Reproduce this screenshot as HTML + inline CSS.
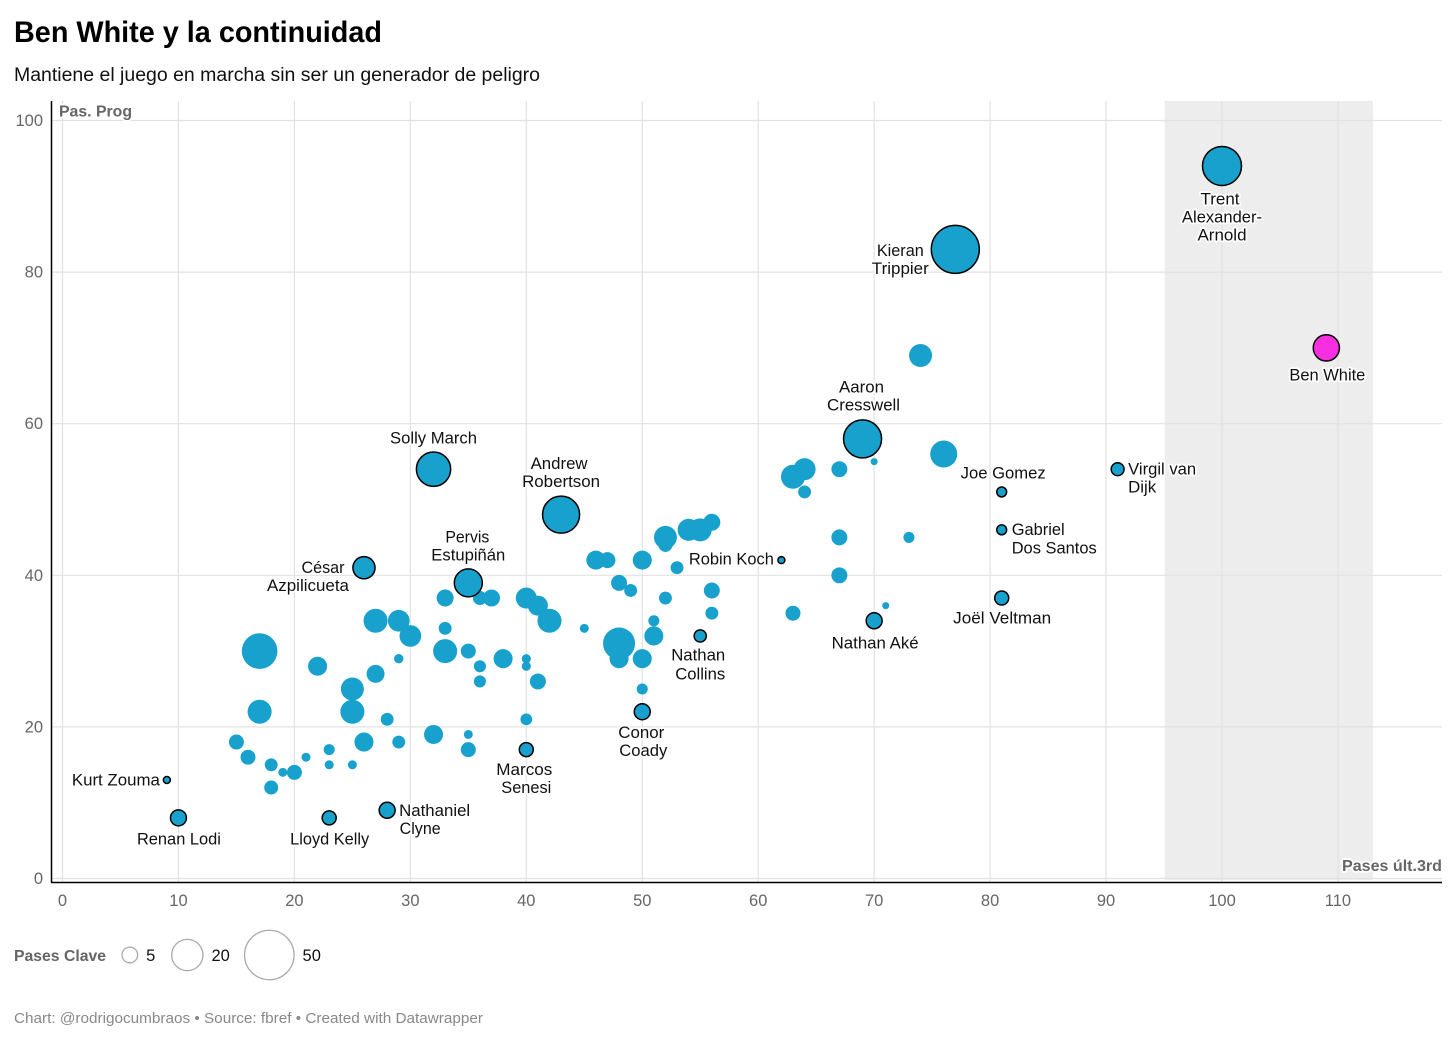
<!DOCTYPE html>
<html lang="es">
<head>
<meta charset="utf-8">
<title>Ben White y la continuidad</title>
<style>
html,body{margin:0;padding:0;background:#fff;width:1456px;height:1051px;overflow:hidden}
svg{display:block;font-family:"Liberation Sans",sans-serif}
.halo{paint-order:stroke;stroke:#fff;stroke-width:3.5px;stroke-linejoin:round}
</style>
</head>
<body>
<svg id="chart" width="1456" height="1051" viewBox="0 0 1456 1051" xmlns="http://www.w3.org/2000/svg">
  <rect x="0" y="0" width="1456" height="1051" fill="#fff"/>
  <text x="14" y="42" font-size="30" font-weight="700" fill="#000" textLength="368" lengthAdjust="spacingAndGlyphs">Ben White y la continuidad</text>
  <text x="14" y="81" font-size="19" fill="#111" textLength="526" lengthAdjust="spacingAndGlyphs">Mantiene el juego en marcha sin ser un generador de peligro</text>
  <g id="band-layer"></g>
  <g id="grid-layer"></g>
  <g id="tick-layer"></g>
  <line x1="51.5" y1="101" x2="51.5" y2="882.5" stroke="#000" stroke-width="1.5"/>
  <line x1="51" y1="882.5" x2="1442" y2="882.5" stroke="#000" stroke-width="1.5"/>
  <g id="point-layer"></g>
  <g id="label-layer"></g>
  <text class="halo" x="59" y="116.5" font-size="16" font-weight="700" fill="#666" textLength="73" lengthAdjust="spacingAndGlyphs">Pas. Prog</text>
  <text class="halo" x="1442" y="871" font-size="16" font-weight="700" fill="#666" text-anchor="end" textLength="100" lengthAdjust="spacingAndGlyphs">Pases últ.3rd</text>
  <text x="14" y="961" font-size="16" font-weight="700" fill="#666" textLength="92" lengthAdjust="spacingAndGlyphs">Pases Clave</text>
  <g id="legend-layer"></g>
  <text x="14" y="1023" font-size="15" fill="#888" textLength="469" lengthAdjust="spacingAndGlyphs">Chart: @rodrigocumbraos • Source: fbref • Created with Datawrapper</text>
</svg>
<script>
// ---- Data ----
const xTicks = [0, 10, 20, 30, 40, 50, 60, 70, 80, 90, 100, 110];
const yTicks = [0, 20, 40, 60, 80, 100];
const bandRange = [95, 113];
const legendSizes = [5, 20, 50];

// Unlabelled players
const plainPases3rd = [17, 17, 22, 25, 25, 27, 29, 30, 27, 29, 33, 33, 33, 35, 36, 36, 38, 40, 40, 41, 40, 36, 37, 40, 41, 42, 28, 15, 16, 18, 19, 20, 21, 18, 23, 23, 25, 26, 29, 32, 35, 35, 45, 48, 48, 50, 51, 51, 50, 46, 47, 50, 48, 49, 52, 53, 52, 52, 54, 55, 56, 56, 56, 63, 67, 67, 73, 71, 70, 67, 64, 63, 64, 76, 74];
const plainPasProg = [30, 22, 28, 25, 22, 34, 34, 32, 27, 29, 37, 33, 30, 30, 28, 26, 29, 29, 28, 26, 21, 37, 37, 37, 36, 34, 21, 18, 16, 15, 14, 14, 16, 12, 17, 15, 15, 18, 18, 19, 19, 17, 33, 31, 29, 29, 32, 34, 25, 42, 42, 42, 39, 38, 37, 41, 45, 44, 46, 46, 47, 38, 35, 35, 40, 45, 45, 36, 55, 54, 54, 53, 51, 56, 69];
const plainPasesClave = [26, 11.8, 7.4, 10.8, 11.8, 11.8, 9.6, 9.6, 6.6, 1.8, 5.9, 3.4, 11.8, 4.6, 3, 3, 7.4, 1.7, 1.7, 5.2, 2.8, 4, 5.9, 9, 8.2, 11.8, 3.4, 4.6, 4.6, 3.4, 1.65, 4.6, 1.65, 4, 2.5, 1.65, 1.65, 7.4, 3.4, 7.4, 1.65, 4.6, 1.65, 21, 7.4, 7.4, 7.4, 2.5, 2.5, 7.4, 5.2, 7.4, 5.2, 3.4, 3.4, 3.4, 10.8, 4, 9.9, 10.8, 5.9, 5.2, 3.4, 4.6, 5.2, 5.2, 2.5, 1, 1, 5.2, 9.9, 11.8, 3.4, 14.9, 10.8];

// Highlighted players
const playerIds = ['trent', 'kieran', 'ben-white', 'aaron', 'solly', 'andrew', 'virgil', 'joe', 'gabriel', 'robin', 'cesar', 'pervis', 'joel', 'ake', 'collins', 'conor', 'marcos', 'kurt', 'renan', 'lloyd', 'nathaniel'];
const playerPases3rd = [100, 77, 109, 69, 32, 43, 91, 81, 81, 62, 26, 35, 81, 70, 55, 50, 40, 9, 10, 23, 28];
const playerPasProg = [94, 83, 70, 58, 54, 48, 54, 51, 46, 42, 41, 39, 37, 34, 32, 22, 17, 13, 8, 8, 9];
const playerPasesClave = [31, 47, 14, 29.5, 24, 28, 3.4, 2, 2, 1, 10, 16, 4, 5.2, 3, 5.2, 4, 1, 5.2, 4, 5.2];
const playerNames = [
  ['Trent', 'Alexander-', 'Arnold'], ['Kieran', 'Trippier'], ['Ben White'], ['Aaron', 'Cresswell'],
  ['Solly March'], ['Andrew', 'Robertson'], ['Virgil van', 'Dijk'], ['Joe Gomez'],
  ['Gabriel', 'Dos Santos'], ['Robin Koch'], ['César', 'Azpilicueta'], ['Pervis', 'Estupiñán'],
  ['Joël Veltman'], ['Nathan Aké'], ['Nathan', 'Collins'], ['Conor', 'Coady'],
  ['Marcos', 'Senesi'], ['Kurt Zouma'], ['Renan Lodi'], ['Lloyd Kelly'], ['Nathaniel', 'Clyne']
];

// ---- Layout (not data): label line offsets from their bubble, and line widths ----
const labelLayout = [
  [[-2,33,39],[0,51,80],[0,69,49]], [[-55,1,47],[-55,19,57]], [[1,27,76]], [[-1,-52,45],[1,-34,73]],
  [[0,-31,87]], [[-2,-51,57],[0,-33,78]], [[44.5,0,68],[24.5,18,28]], [[1.5,-19,85]],
  [[36.5,-0.5,53],[52.5,18,85]], [[-50,-1,85]], [[-41,0,43],[-56,18,82]], [[-1,-46,44],[0,-28,74]],
  [[0.5,20,98]], [[1,22,87]], [[-2,19,54],[0,38,50]], [[-1,21,46],[1,39,48]],
  [[-2,20,56],[0,38,50]], [[-51,0,88]], [[0.5,21,84]], [[0.5,21,79]], [[47.5,0,71],[33,18,41]]
];
const legendGaps = [34, 41.6, 0];

const SVGNS = 'http://www.w3.org/2000/svg';
const xScale = v => 62.5 + 11.595 * v;
const yScale = v => 878.5 - 7.58 * v;
const rScale = v => 3.5 * Math.sqrt(v);
const BLUE = '#18a1cd';
const PINK = '#f72fe0';

function make(tag, parent, props, content) {
  const node = document.createElementNS(SVGNS, tag);
  for (const k in props) node.setAttribute(k, props[k]);
  if (content !== undefined) node.textContent = content;
  parent.appendChild(node);
  return node;
}

const bandLayer = document.getElementById('band-layer');
const gridLayer = document.getElementById('grid-layer');
const tickLayer = document.getElementById('tick-layer');
const pointLayer = document.getElementById('point-layer');
const labelLayer = document.getElementById('label-layer');
const legendLayer = document.getElementById('legend-layer');

// Highlight band
const band = make('rect', bandLayer, {x: xScale(bandRange[0]) + 0.7, y: 101, width: xScale(bandRange[1]) - xScale(bandRange[0]) - 0.5, height: 779, fill: '#ededed'});



// Grid and tick labels
xTicks.forEach(t => {
  const line = make('line', gridLayer, {x1: xScale(t), x2: xScale(t), y1: 101, y2: 882, stroke: '#e2e2e2', 'stroke-width': 1.2});
  
  
  const label = make('text', tickLayer, {x: xScale(t), y: 906, 'font-size': 16.5, fill: '#666', 'text-anchor': 'middle'}, t);
  
  
});
yTicks.forEach(t => {
  const line = make('line', gridLayer, {x1: 52, x2: 1442, y1: yScale(t), y2: yScale(t), stroke: '#e2e2e2', 'stroke-width': 1.2});
  
  
  const label = make('text', tickLayer, {x: 43, y: yScale(t) + 5.5, 'font-size': 16.5, fill: '#666', 'text-anchor': 'end'}, t);
  
  
});

// Plain bubbles
plainPases3rd.forEach((v, i) => {
  const c = make('circle', pointLayer, {cx: xScale(v), cy: yScale(plainPasProg[i]), r: rScale(plainPasesClave[i]), fill: BLUE});
  
  
});

// Labelled bubbles and their text
playerPases3rd.forEach((v, i) => {
  const cx = xScale(v);
  const cy = yScale(playerPasProg[i]);
  const c = make('circle', pointLayer, {cx: cx, cy: cy, r: rScale(playerPasesClave[i]), fill: playerIds[i] === 'ben-white' ? PINK : BLUE, stroke: '#000', 'stroke-width': 1.5});
  
  
  playerNames[i].forEach((line, j) => {
    const place = labelLayout[i][j];
    const t = make('text', labelLayer, {x: cx + place[0], y: cy + place[1] + 5.5, 'font-size': 16.5, fill: '#111', 'text-anchor': 'middle', class: 'halo', textLength: place[2], lengthAdjust: 'spacingAndGlyphs'}, line);
    
    
  });
});

// Size legend
let legendX = 122;
legendSizes.forEach((size, i) => {
  const r = rScale(size);
  const c = make('circle', legendLayer, {cx: legendX + r, cy: 955, r: r, fill: 'none', stroke: '#aaa', 'stroke-width': 1.3});
  
  
  const t = make('text', legendLayer, {x: legendX + 2 * r + 8.5, y: 961, 'font-size': 16.5, fill: '#111'}, size);
  
  
  legendX += 2 * r + legendGaps[i];
});
</script>
</body>
</html>
